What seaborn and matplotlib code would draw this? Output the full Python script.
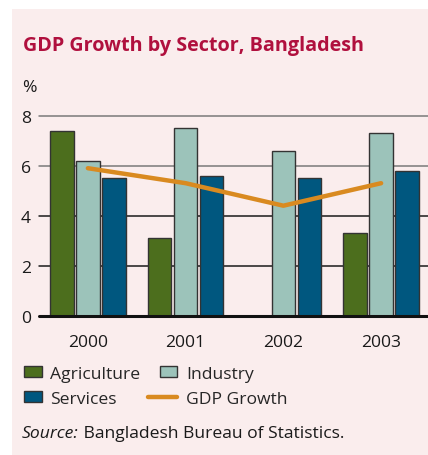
import numpy as np
import pandas as pd
import matplotlib
matplotlib.use("Agg")
import matplotlib.pyplot as plt
from matplotlib.patches import Rectangle, Patch
from matplotlib.lines import Line2D
from matplotlib.legend_handler import HandlerBase
import seaborn as sns

# --- data -------------------------------------------------------------
years = ["2000", "2001", "2002", "2003"]
agriculture = [7.4, 3.1, 0.0, 3.3]
industry = [6.2, 7.5, 6.6, 7.3]
services = [5.5, 5.6, 5.5, 5.8]
gdp_growth = [5.9, 5.3, 4.4, 5.3]
sectors = ["Agriculture", "Industry", "Services"]
y_ticks = [0, 2, 4, 6, 8]

title = "GDP Growth by Sector, Bangladesh"
source_label = "Source:"
source_text = " Bangladesh Bureau of Statistics."

# --- styling ----------------------------------------------------------
sns.set_style("white")
plt.rcParams["font.family"] = ["Open Sans", "DejaVu Sans"]

panel_bg = "#FAEDED"
title_color = "#B0103E"
colors = {"Agriculture": "#4C6E1D", "Industry": "#9CC3BA", "Services": "#00577F"}
line_color = "#D98A20"
text_color = "#1A1A1A"
fs = 12.6

df = pd.DataFrame({
    "year": np.repeat(years, len(sectors)),
    "sector": sectors * len(years),
    "value": np.ravel(np.column_stack([agriculture, industry, services])),
})

W, H = 428, 456
fig = plt.figure(figsize=(W / 100, H / 100), dpi=100, facecolor="white")

# pink panel behind everything
fig.patches.append(Rectangle((12 / W, 0), 1 - 12 / W, 1 - 10 / H,
                             transform=fig.transFigure, facecolor=panel_bg,
                             edgecolor="none", zorder=-10))

ax_left, ax_right = 39, 430
ax_top, ax_bottom = 116.7, 316.7
ax = fig.add_axes([ax_left / W, 1 - ax_bottom / H,
                   (ax_right - ax_left) / W, (ax_bottom - ax_top) / H])
ax.set_facecolor("none")

sns.barplot(data=df, x="year", y="value", hue="sector", order=years,
            hue_order=sectors, palette=colors, saturation=1, width=0.8,
            gap=0.1, edgecolor="#333333", linewidth=1.0, legend=False,
            ax=ax, zorder=3)

sns.lineplot(x=np.arange(len(years)), y=gdp_growth, color=line_color,
             linewidth=3.2, ax=ax, zorder=5)

# horizontal rules
for v in y_ticks[1:]:
    ax.axhline(v, color="#7A7A7A" if v >= 6 else "#1A1A1A", linewidth=1.1,
               zorder=1, clip_on=False)
ax.axhline(0, color="#111111", linewidth=2.2, zorder=6, clip_on=False)

ax.set_xlim(-0.5, 3.5)
ax.set_ylim(0, 8)
ax.set_yticks(y_ticks)
ax.set_yticklabels([str(v) for v in y_ticks])
ax.set_xlabel("")
ax.set_ylabel("")
for s in ax.spines.values():
    s.set_visible(False)
ax.tick_params(axis="both", length=0, labelsize=fs, colors=text_color)
ax.tick_params(axis="y", pad=6)
ax.tick_params(axis="x", pad=13)

# title and unit label
fig.text(23 / W, 1 - 46 / H, title, fontsize=14.2, fontweight="bold",
         color=title_color, va="center", ha="left")
fig.text(22 / W, 1 - 88 / H, "%", fontsize=fs, color=text_color,
         va="center", ha="left")

# legend
class LongLineHandler(HandlerBase):
    def create_artists(self, legend, orig_handle, xdescent, ydescent,
                       width, height, fontsize, trans):
        y = height / 2 - ydescent
        ln = Line2D([-xdescent - 0.65 * width, -xdescent + width], [y, y],
                    color=orig_handle.get_color(),
                    linewidth=orig_handle.get_linewidth())
        ln.set_transform(trans)
        return [ln]

handles = [
    Patch(facecolor=colors["Agriculture"], edgecolor="#333333", linewidth=1.0),
    Patch(facecolor=colors["Services"], edgecolor="#333333", linewidth=1.0),
    Patch(facecolor=colors["Industry"], edgecolor="#333333", linewidth=1.0),
    Line2D([], [], color=line_color, linewidth=3.2),
]
labels = ["Agriculture", "Services", "Industry", "GDP Growth"]
fig.legend(handles, labels, ncol=2, loc="upper left",
           bbox_to_anchor=(24 / W, 1 - 367 / H), frameon=False,
           fontsize=fs, handlelength=1.0, handleheight=0.6,
           handletextpad=0.5, columnspacing=1.1, labelspacing=0.5,
           borderpad=0, borderaxespad=0,
           handler_map={Line2D: LongLineHandler()})

# source note
src = fig.text(22 / W, 1 - 434 / H, source_label, fontsize=fs,
               style="italic", color=text_color, va="center", ha="left")
ax.annotate(source_text, xy=(1, 0.5), xycoords=src, va="center", ha="left",
            fontsize=fs, color=text_color, annotation_clip=False)

fig.savefig("out.png", dpi=100, facecolor="white")
